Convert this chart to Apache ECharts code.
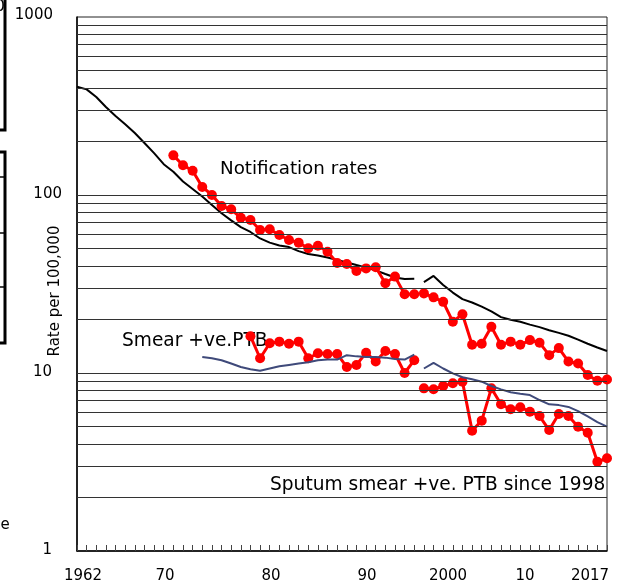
<!DOCTYPE html>
<html><head><meta charset="utf-8">
<script src="https://cdn.jsdelivr.net/npm/echarts@6/dist/echarts.min.js"></script>
<style>html,body{margin:0;padding:0;background:#fff}#c{width:619px;height:588px}</style>
</head><body><div id="c"></div>
<script>
var years = ['1962','1963','1964','1965','1966','1967','1968','1969','1970','1971','1972','1973','1974','1975','1976','1977','1978','1979','1980','1981','1982','1983','1984','1985','1986','1987','1988','1989','1990','1991','1992','1993','1994','1995','1996','1997','1998','1999','2000','2001','2002','2003','2004','2005','2006','2007','2008','2009','2010','2011','2012','2013','2014','2015','2016','2017'];

// black line (earlier definition) 1962-1997 and 1998-2017
var blackStartA = '1962';
var blackA = [406,392,355,312,278,250,223,196,172,149,135,119,108,98,88,79,72,66,62,57,54,52,51,48.4,46.6,45.7,44.5,43.1,41.8,40.4,39.1,37.7,36,34.4,33.7,33.8];
var blackStartB = '1998';
var blackB = [32.4,35.1,31.2,28.3,26.0,24.9,23.6,22.2,20.6,19.9,19.4,18.7,18.1,17.4,16.8,16.2,15.4,14.6,13.9,13.3];

// notification rates (red dots)
var notifStartA = '1972';
var notifA = [167,147,137,111,100,86.7,83.1,74.5,72.4,63.6,64.2,59.6,55.9,54,50.2,51.9,48,41.5,41,37.4,38.7,39.3,31.9,34.8,27.7,27.7];
var notifStartB = '1998';
var notifB = [28.0,26.6,25.1,19.4,21.4,14.4,14.6,18.2,14.4,15.0,14.4,15.3,14.8,12.6,13.8,11.6,11.3,9.75,9.05,9.2];

// smear +ve PTB (red dots)
var smearStartA = '1980';
var smearA = [16.1,12.1,14.7,15.0,14.6,15.0,12.1,12.9,12.8,12.8,10.8,11.1,13.0,11.6,13.3,12.8,10.0,11.8];
var smearStartB = '1998';
var smearB = [8.2,8.1,8.45,8.75,8.94,4.74,5.40,8.2,6.67,6.25,6.42,6.06,5.73,4.78,5.88,5.73,4.99,4.62,3.17,3.32];

// smear line (navy)
var navyStartA = '1975';
var navyA = [12.3,12.1,11.8,11.3,10.8,10.5,10.3,10.6,10.9,11.1,11.3,11.5,11.8,11.9,11.9,12.6,12.4,12.3,12.3,12.2,12.0,11.9,12.7];
var navyStartB = '1998';
var navyB = [10.6,11.4,10.6,9.96,9.46,9.22,8.94,8.45,8.09,7.79,7.65,7.52,7.05,6.67,6.6,6.45,6.1,5.7,5.3,5.0];

var gridValues = [2,3,4,5,6,7,8,9,10,20,30,40,50,60,70,80,90,100,200,300,400,500,600,700,800,900];
var yTickLabels = ['1000','100','10','1'];
var yTickValues = [1000,100,10,1];
var xTickLabels = ['1962','70','80','90','2000','10','2017'];

var textNotif = 'Notification rates';
var textSmear = 'Smear +ve.PTB';
var textSputum = 'Sputum smear +ve. PTB since 1998';
var textYName = 'Rate per 100,000';

function pairs(start, vals) {
  var s = years.indexOf(start);
  return vals.map(function (v, i) { return [years[s + i], v]; });
}

var FONT = '"DejaVu Sans", Verdana, sans-serif';
var chart = echarts.init(document.getElementById('c'), null, {renderer: 'canvas'});

var gridLeft = 77, gridTop = 17, gridRight = 12, gridBottom = 37;
var plotH = 588 - gridTop - gridBottom;

function yPix(v) { return gridTop + plotH * (1 - Math.log10(v) / 3); }

var yLabelRight = [53, 62, 52, 52];
var xLabelCenters = [83, 165, 271, 367, 448, 525, 590];

var graphics = [];
yTickLabels.forEach(function (t, i) {
  graphics.push({type: 'text', x: yLabelRight[i], y: (i === 0 ? 15 : yPix(yTickValues[i]) - 1), style: {text: t, font: '15px ' + FONT, fill: '#000', align: 'right', verticalAlign: 'middle'}});
});
xTickLabels.forEach(function (t, i) {
  graphics.push({type: 'text', x: xLabelCenters[i], y: 576, style: {text: t, font: '15px ' + FONT, fill: '#000', align: 'center', verticalAlign: 'middle'}});
});
graphics.push({type: 'text', x: 55, y: 291, rotation: Math.PI / 2, style: {text: textYName, font: '15px ' + FONT, fill: '#000', align: 'center', verticalAlign: 'middle'}});
graphics.push({type: 'text', x: 220, y: 169, style: {text: textNotif, font: '18.3px ' + FONT, fill: '#000', align: 'left', verticalAlign: 'middle'}});
graphics.push({type: 'text', x: 122, y: 341, style: {text: textSmear, font: '18.6px ' + FONT, fill: '#000', align: 'left', verticalAlign: 'middle'}});
graphics.push({type: 'text', x: 270, y: 485, style: {text: textSputum, font: '18.6px ' + FONT, fill: '#000', align: 'left', verticalAlign: 'middle'}});
// cropped neighbouring elements at left edge
graphics.push({type: 'rect', shape: {x: -20, y: -20, width: 25, height: 150}, style: {fill: 'none', stroke: '#000', lineWidth: 3}});
graphics.push({type: 'rect', shape: {x: -20, y: 152, width: 25, height: 191}, style: {fill: 'none', stroke: '#000', lineWidth: 3}});
[177, 233, 287].forEach(function (yy) {
  graphics.push({type: 'line', shape: {x1: 0, y1: yy, x2: 5, y2: yy}, style: {stroke: '#000', lineWidth: 1.5}});
});
graphics.push({type: 'text', x: 5, y: 7, style: {text: '0', font: '16px ' + FONT, fill: '#000', align: 'right', verticalAlign: 'middle'}});
graphics.push({type: 'text', x: 5, y: 525, style: {text: 'e', font: '15px ' + FONT, fill: '#000', align: 'center', verticalAlign: 'middle'}});

function lineSeries(data, color, width, z) {
  return {type: 'line', data: data, symbol: 'none', z: z, lineStyle: {color: color, width: width}, itemStyle: {color: color}, connectNulls: false};
}
function dotSeries(data, z) {
  return {type: 'line', data: data, symbol: 'circle', symbolSize: 10, showSymbol: true, showAllSymbol: true, z: z,
    lineStyle: {color: '#ff0000', width: 3}, itemStyle: {color: '#ff0000', borderWidth: 0}};
}

chart.setOption({
  animation: false,
  backgroundColor: '#fff',
  grid: {left: gridLeft, right: gridRight, top: gridTop, bottom: gridBottom, show: true, borderColor: '#222', borderWidth: 1, backgroundColor: 'transparent'},
  xAxis: {type: 'category', data: years, boundaryGap: false,
    axisLine: {show: true, lineStyle: {color: '#000', width: 1.5}},
    axisTick: {show: true, inside: true, length: 6, interval: 0, lineStyle: {color: '#444'}},
    axisLabel: {show: false}, splitLine: {show: false}},
  yAxis: {type: 'log', logBase: 10, min: 1, max: 1000,
    axisLine: {show: true, onZero: false, lineStyle: {color: '#000', width: 1.5}},
    axisTick: {show: false}, axisLabel: {show: false}, splitLine: {show: false}},
  graphic: graphics,
  series: [
    {type: 'line', data: [], z: 1, silent: true,
      markLine: {silent: true, symbol: 'none', animation: false, label: {show: false},
        lineStyle: {color: '#333', width: 1, type: 'solid'},
        data: gridValues.map(function (v) { return {yAxis: v}; })}},
    lineSeries(pairs(blackStartA, blackA), '#000', 2, 2),
    lineSeries(pairs(blackStartB, blackB), '#000', 2, 2),
    dotSeries(pairs(notifStartA, notifA), 3),
    dotSeries(pairs(notifStartB, notifB), 3),
    dotSeries(pairs(smearStartA, smearA), 3),
    dotSeries(pairs(smearStartB, smearB), 3),
    lineSeries(pairs(navyStartA, navyA), '#3f4a7a', 2, 4),
    lineSeries(pairs(navyStartB, navyB), '#3f4a7a', 2, 4)
  ]
});
</script></body></html>
